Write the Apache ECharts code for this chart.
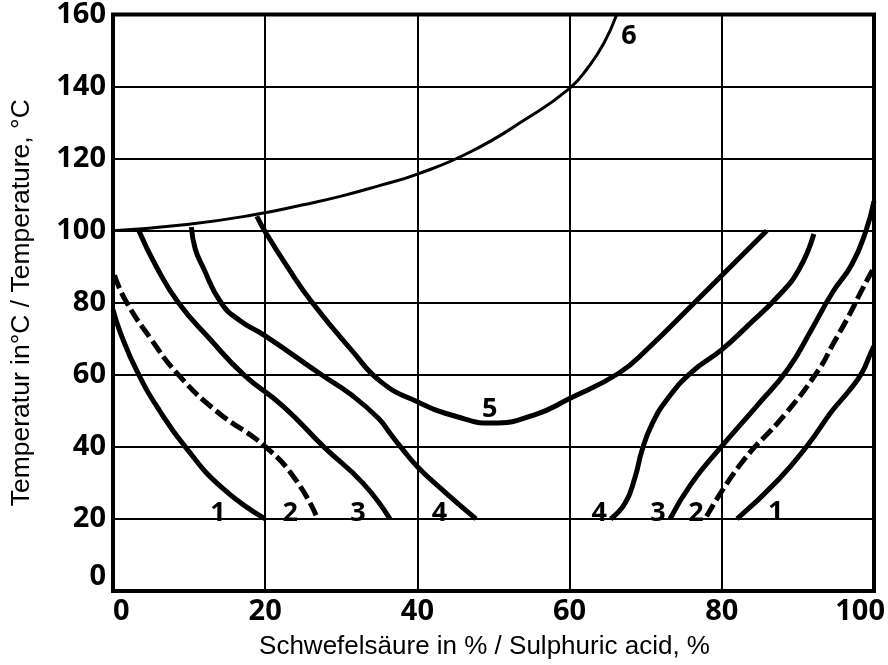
<!DOCTYPE html>
<html>
<head>
<meta charset="utf-8">
<script src="https://cdn.jsdelivr.net/npm/echarts@6/dist/echarts.min.js"></script>
<style>
  html, body { margin: 0; padding: 0; background: #fff; }
  #chart { width: 888px; height: 665px; }
</style>
</head>
<body>
<div id="chart"></div>
<script>
// ticks
var xTicks = [0, 20, 40, 60, 80, 100];
var yTicks = [0, 20, 40, 60, 80, 100, 120, 140, 160];

// curves: [acid %, temperature °C]
var curve1Left = [[0,78],[0.95,71.8],[3.2,60.8],[6.1,50.1],[9.5,40],[14.2,28.9],[20,20]];
var curve2Left = [[0.2,87.6],[1.6,80.8],[5,69.9],[8.6,60],[13.6,49.9],[20.1,39.9],[24.2,30.3],[26.9,20]];
var curve3Left = [[3.4,100],[5.7,90],[8.6,80],[12.7,70],[17.2,60],[22.4,51.2],[27.7,40],[32.9,29.8],[36.4,20]];
var curve4Left = [[10.3,101],[10.8,95],[11.8,90],[14.2,80],[16.7,75],[20,70.8],[27.4,60],[31.4,54.3],[34.9,47.9],[36.4,43.8],[37.8,40],[40,34.5],[43.8,27.1],[47.7,20]];
var curve5 = [[18.9,104],[20,99.7],[22.9,90],[26.2,80],[31.4,66.7],[35.3,57.9],[40,52.5],[45,48.5],[49.8,46.6],[55.4,48.9],[60,53.4],[66.5,60.5],[70.2,67.1],[76.4,80],[85.9,100]];
var curve6 = [[0,100],[10,101.8],[18.5,104.4],[25,107.2],[30,109.6],[35,112.5],[40,115.7],[47,121.9],[54.2,130.9],[60,139.5],[62.5,145.5],[64.5,152],[66.2,160]];
var curve4Right = [[65.4,20],[67.3,24.4],[68.6,31.6],[69.5,38.9],[70.8,46.2],[72.9,53.4],[76,60.7],[80,67],[83.4,73.6],[87.4,81.8],[90.1,89.1],[92.1,99.1]];
var curve3Right = [[73.2,20],[76,29.8],[80,40.2],[84.7,51.6],[88.7,61.6],[91.8,72.6],[94.5,82.7],[97.1,90.7],[98.9,99.7],[100,108.2]];
var curve2Right = [[78,20.7],[82.5,35.3],[88.3,49],[92.8,61.6],[94.6,68.5],[96.6,76],[98.4,83.5],[99.8,89]];
var curve1Right = [[82,20],[87.4,30.8],[91.4,40.8],[94.5,50],[96.7,55.5],[98.4,60.5],[99.6,66.2],[100,68]];

// curve numbers and where they sit
var curveNames = ['1', '2', '3', '4', '5', '6', '4', '3', '2', '1'];
var namePos = [[13.8,21.6],[23.3,21.6],[32.2,21.6],[42.9,21.6],[49.5,50.4],[67.8,154],[63.9,21.6],[71.6,21.6],[76.6,21.6],[87.1,21.9]];

var boldFont = '"Noto Sans", "DejaVu Sans Condensed", sans-serif';
var thinFont = '"Liberation Sans", Arial, sans-serif';

function curve(data, width, dashed) {
  return {
    type: 'line',
    data: data,
    smooth: 0.5,
    showSymbol: false,
    silent: true,
    z: 3,
    lineStyle: {
      color: '#000',
      width: width,
      type: dashed ? [14, 5] : 'solid',
      cap: 'butt'
    }
  };
}

var labelData = namePos.map(function (p, i) {
  return { value: p, name: curveNames[i] };
});

var chart = echarts.init(document.getElementById('chart'));

var option = {
  animation: false,
  backgroundColor: '#fff',
  grid: {
    left: 113,
    right: 13,
    top: 14,
    bottom: 74,
    show: true,
    borderColor: '#000',
    borderWidth: 4,
    z: 5
  },
  xAxis: {
    type: 'value',
    min: xTicks[0],
    max: xTicks[xTicks.length - 1],
    interval: 20,
    name: 'Schwefelsäure in % / Sulphuric acid, %',
    nameLocation: 'middle',
    nameGap: 43,
    nameTextStyle: { fontFamily: thinFont, fontSize: 26, color: '#000', padding: [0, 18, 0, 0] },
    axisLine: { show: false },
    axisTick: { show: false },
    axisLabel: {
      margin: 6,
      color: '#000',
      fontFamily: boldFont,
      fontWeight: 'bold condensed',
      fontSize: 29,
      alignMinLabel: 'left',
      alignMaxLabel: 'right',
      formatter: function (v) {
        return v === xTicks[xTicks.length - 1] ? '{r|' + v + '}' : String(v);
      },
      rich: {
        r: {
          color: '#000',
          fontFamily: boldFont,
          fontWeight: 'bold condensed',
          fontSize: 29,
          padding: [0, -11, 0, 0]
        }
      }
    },
    splitLine: { lineStyle: { color: '#000', width: 2 } }
  },
  yAxis: {
    type: 'value',
    min: yTicks[0],
    max: yTicks[yTicks.length - 1],
    interval: 20,
    name: 'Temperatur in°C / Temperature, °C',
    nameLocation: 'middle',
    nameGap: 78,
    nameTextStyle: { fontFamily: thinFont, fontSize: 26.5, color: '#000' },
    axisLine: { show: false },
    axisTick: { show: false },
    axisLabel: {
      margin: 7,
      color: '#000',
      fontFamily: boldFont,
      fontWeight: 'bold condensed',
      fontSize: 29,
      verticalAlignMinLabel: 'bottom'
    },
    splitLine: { lineStyle: { color: '#000', width: 2 } }
  },
  series: [
    curve(curve1Left, 5, false),
    curve(curve2Left, 5, true),
    curve(curve3Left, 5, false),
    curve(curve4Left, 5, false),
    curve(curve5, 5, false),
    curve(curve6, 3, false),
    curve(curve4Right, 5, false),
    curve(curve3Right, 5, false),
    curve(curve2Right, 5, true),
    curve(curve1Right, 5, false),
    {
      type: 'scatter',
      data: labelData,
      symbolSize: 0,
      silent: true,
      z: 4,
      itemStyle: { opacity: 1 },
      label: {
        show: true,
        position: 'inside',
        formatter: '{b}',
        color: '#000',
        fontFamily: boldFont,
        fontWeight: 'bold condensed',
        fontSize: 27
      }
    }
  ]
};

chart.setOption(option);
</script>
</body>
</html>
